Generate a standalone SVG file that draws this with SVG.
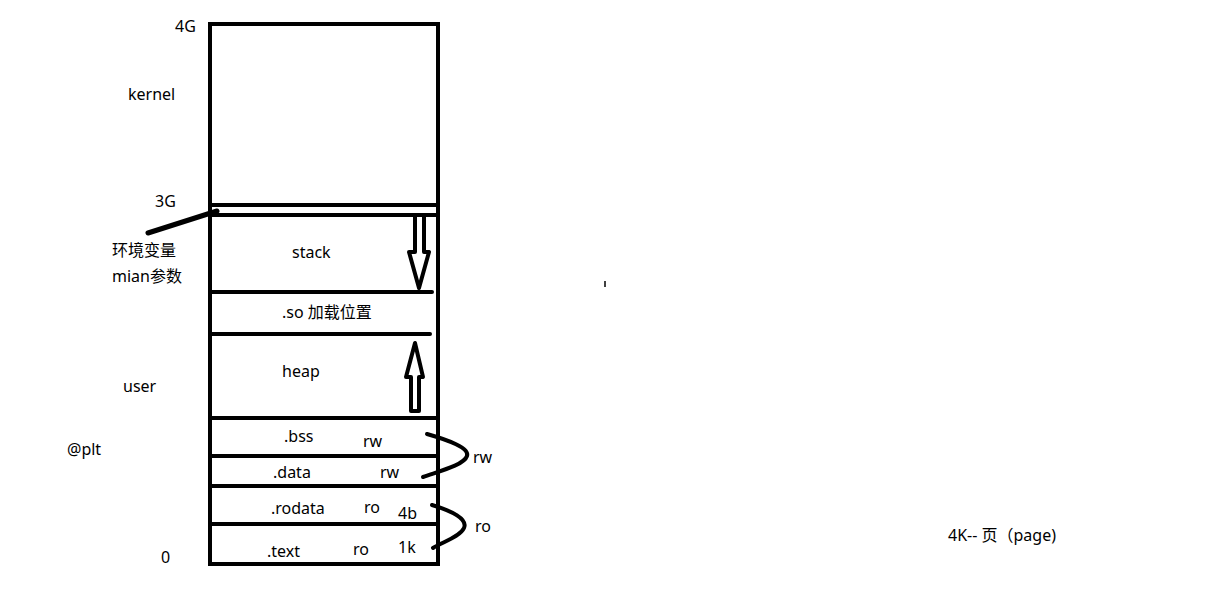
<svg xmlns="http://www.w3.org/2000/svg" width="1209" height="600" viewBox="0 0 1209 600">
<style>
.t{font-family:"Noto Sans","Noto Sans CJK SC",sans-serif;font-size:16px;fill:#000}
.ln{stroke:#000;stroke-width:4;fill:none;stroke-linecap:round}
.th{stroke:#000;stroke-width:4;fill:none;stroke-linecap:round;stroke-linejoin:round}
</style>
<rect width="1209" height="600" fill="#fff"/>
<g id="memory">
<rect x="210" y="24" width="228" height="540" fill="#fff" stroke="#000" stroke-width="4"/>
<line class="ln" x1="210" y1="205" x2="438" y2="205" stroke-linecap="butt"/>
<line class="ln" x1="210" y1="215" x2="438" y2="215" stroke-linecap="butt"/>
<line class="ln" x1="210" y1="292" x2="432" y2="292"/>
<line class="ln" x1="210" y1="334" x2="430" y2="334"/>
<line class="ln" x1="210" y1="418" x2="438" y2="418" stroke-linecap="butt"/>
<line class="ln" x1="210" y1="456" x2="438" y2="456" stroke-linecap="butt"/>
<line class="ln" x1="210" y1="486" x2="438" y2="486" stroke-linecap="butt"/>
<line class="ln" x1="210" y1="524" x2="438" y2="524" stroke-linecap="butt"/>
</g>
<g id="labels-left">
<text class="t" x="175" y="32">4G</text>
<text class="t" x="128" y="100">kernel</text>
<text class="t" x="155" y="207">3G</text>
<text class="t" x="112" y="256">环境变量</text>
<text class="t" x="112" y="282">mian参数</text>
<text class="t" x="123" y="392">user</text>
<text class="t" x="67" y="455">@plt</text>
<text class="t" x="161" y="563">0</text>
</g>
<g id="segments">
<text class="t" x="292" y="258">stack</text>
<text class="t" x="282" y="318">.so 加载位置</text>
<text class="t" x="282" y="377">heap</text>
<text class="t" x="284" y="442">.bss</text>
<text class="t" x="363" y="447">rw</text>
<text class="t" x="273" y="478">.data</text>
<text class="t" x="380" y="478">rw</text>
<text class="t" x="271" y="514">.rodata</text>
<text class="t" x="364" y="513">ro</text>
<text class="t" x="398" y="519">4b</text>
<text class="t" x="267" y="557">.text</text>
<text class="t" x="353" y="555">ro</text>
<text class="t" x="398" y="553">1k</text>
<text class="t" x="473" y="463">rw</text>
<text class="t" x="475" y="532">ro</text>
<text class="t" x="948" y="541">4K-- 页（page)</text>
</g>
<g id="connectors">
<line x1="148" y1="233" x2="217" y2="211" stroke="#000" stroke-width="5" stroke-linecap="round"/>
<polyline class="th" points="415,216 415,252 409,252 419,288 429,252 424,252 424,216"/>
<polygon class="th" points="411,411 411,377 406,377 415,343 423,377 419,377 419,411"/>
<path class="th" d="M427,434 C448,440 470,448 467,456 C464,465 440,471 423,477"/>
<path class="th" d="M432,505 C452,511 468,519 464,528 C460,537 442,542 433,548"/>
<line x1="605" y1="281" x2="605" y2="287" stroke="#000" stroke-width="1.5"/>
</g>
</svg>
